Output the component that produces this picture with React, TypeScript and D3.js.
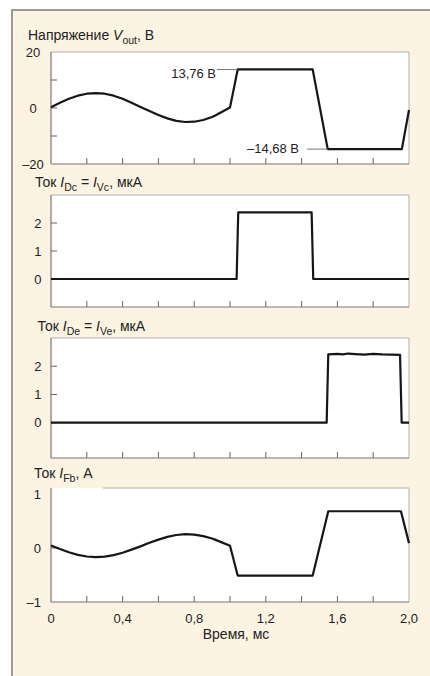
import React from "react";
import * as d3 from "d3";

// ---- data ----
const timeTicks = [0, 0.2, 0.4, 0.6, 0.8, 1.0, 1.2, 1.4, 1.6, 1.8, 2.0];
const timeTickLabels = ["0", "", "0,4", "", "0,8", "", "1,2", "", "1,6", "", "2,0"];

const voutT = [0, 0.05, 0.1, 0.15, 0.2, 0.25, 0.3, 0.35, 0.4, 0.45, 0.5, 0.55, 0.6, 0.65, 0.7, 0.75, 0.8, 0.85, 0.9, 0.92, 1.0, 1.043, 1.462, 1.546, 1.96, 2.0];
const voutV = [0.3, 1.9, 3.3, 4.4, 5.1, 5.3, 5.1, 4.4, 3.3, 1.9, 0.4, -1.1, -2.5, -3.7, -4.6, -5.0, -4.9, -4.3, -3.2, -2.6, 0.2, 13.76, 13.76, -14.68, -14.68, -0.7];

const idcT = [0, 1.037, 1.046, 1.456, 1.465, 2.0];
const idcV = [0, 0, 2.38, 2.38, 0, 0];

const ideT = [0, 1.54, 1.549, 1.6, 1.63, 1.66, 1.7, 1.75, 1.8, 1.85, 1.9, 1.95, 1.959, 2.0];
const ideV = [0, 0, 2.42, 2.44, 2.42, 2.45, 2.43, 2.41, 2.44, 2.42, 2.41, 2.4, 0, 0];

const ifbT = [0, 0.05, 0.1, 0.15, 0.2, 0.25, 0.3, 0.35, 0.4, 0.45, 0.5, 0.55, 0.6, 0.65, 0.7, 0.75, 0.8, 0.85, 0.9, 0.92, 1.0, 1.043, 1.462, 1.549, 1.955, 2.0];
const ifbV = [0.045, -0.02, -0.08, -0.128, -0.158, -0.17, -0.16, -0.132, -0.088, -0.03, 0.03, 0.095, 0.155, 0.205, 0.24, 0.255, 0.248, 0.22, 0.175, 0.15, 0.04, -0.51, -0.51, 0.68, 0.68, 0.09];

const panel1Ticks = [-10, 0, 10];
const panel1Labels = [20, 0, -20];
const panel2Ticks = [0, 1, 2];
const panel2Labels = [2, 1, 0];
const panel3Ticks = [0, 1, 2];
const panel3Labels = [2, 1, 0];
const panel4Labels = [1, 0, -1];

const annHigh = { t: 1.043, v: 13.76, label: "13,76 В" };
const annLow = { t: 1.546, v: -14.68, label: "–14,68 В" };

// ---- layout ----
const W = 430;
const H = 676;
const X0 = 51;
const X1 = 409;
const FONT = "'Liberation Sans', Arial, Helvetica, sans-serif";
const CREAM = "#fcf3e2";
const LINE = "#161616";
const BORDER = "#b0b0b0";

const x = d3.scaleLinear().domain([0, 2]).range([X0, X1]);

const fmt = (v: number) => (v < 0 ? "–" + Math.abs(v) : String(v));

type PanelProps = {
  id: string;
  top: number;
  bottom: number;
  domain: [number, number];
  ts: number[];
  vs: number[];
  yTicks: number[];
  yLabels: number[];
  labelX: number;
  labelAnchor: "middle" | "end";
  topBorderFrom?: number;
  children?: (y: d3.ScaleLinear<number, number>) => React.ReactNode;
};

function Panel({ id, top, bottom, domain, ts, vs, yTicks, yLabels, labelX, labelAnchor, topBorderFrom, children }: PanelProps) {
  const y = d3.scaleLinear().domain(domain).range([bottom, top]);
  const pts: [number, number][] = ts.map((t, i) => [t, vs[i]]);
  const line = d3
    .line<[number, number]>()
    .x((d) => x(d[0]))
    .y((d) => y(d[1]));
  const tb = topBorderFrom ?? X0;
  return (
    <g id={id}>
      <rect x={X0} y={top} width={X1 - X0} height={bottom - top} fill="#fff" />
      <line x1={tb} x2={X1} y1={top} y2={top} stroke={BORDER} strokeWidth={1} />
      <line x1={X1} x2={X1} y1={top} y2={bottom} stroke={BORDER} strokeWidth={1} />
      <line x1={X0} x2={X0} y1={top} y2={bottom} stroke="#777" strokeWidth={1.2} />
      <line x1={X0} x2={X1} y1={bottom} y2={bottom} stroke="#777" strokeWidth={1.2} />
      {timeTicks.slice(1, -1).map((t) => (
        <line key={id + "xt" + t} x1={x(t)} x2={x(t)} y1={bottom} y2={bottom - 6} stroke="#666" strokeWidth={1} />
      ))}
      {yTicks.map((v) => (
        <line key={id + "yt" + v} x1={X0} x2={X0 + 6} y1={y(v)} y2={y(v)} stroke="#666" strokeWidth={1} />
      ))}
      {yLabels.map((v) => (
        <text
          key={id + "yl" + v}
          x={labelX}
          y={y(v) + 4.7}
          textAnchor={labelAnchor}
          fontSize={13}
          fontFamily={FONT}
          fill="#222"
        >
          {fmt(v)}
        </text>
      ))}
      <path d={line(pts) ?? ""} fill="none" stroke={LINE} strokeWidth={2.2} strokeLinejoin="round" />
      {children ? children(y) : null}
    </g>
  );
}

const titleStyle = { fontSize: 14, fontFamily: FONT, fill: "#222" } as const;

export default function App() {
  return (
    <svg
      width={W}
      height={H}
      style={{ position: "absolute", left: 0, top: 0, display: "block" }}
      xmlns="http://www.w3.org/2000/svg"
    >
      <rect x={0} y={0} width={W} height={H} fill="#fff" />
      <rect x={12} y={10} width={W - 12} height={H - 10} fill={CREAM} />
      <line x1={11} x2={W} y1={10} y2={10} stroke="#9a9a9a" strokeWidth={2} />
      <line x1={12} x2={12} y1={10} y2={H} stroke="#9a9a9a" strokeWidth={2} />

      {/* Panel 1 */}
      <text x={28} y={39.5} {...titleStyle}>
        Напряжение <tspan fontStyle="italic">V</tspan>
        <tspan fontSize={10.5} dy={4}>out</tspan>
        <tspan dy={-4}>, В</tspan>
      </text>
      <Panel
        id="p1"
        top={52}
        bottom={164}
        domain={[-20, 20]}
        ts={voutT}
        vs={voutV}
        yTicks={panel1Ticks}
        yLabels={panel1Labels}
        labelX={33}
        labelAnchor="middle"
      >
        {(y) => (
          <g>
            <line x1={217} x2={x(annHigh.t)} y1={y(annHigh.v)} y2={y(annHigh.v)} stroke="#777" strokeWidth={1} />
            <text x={216} y={78} textAnchor="end" fontSize={13} fontFamily={FONT} fill="#222">
              {annHigh.label}
            </text>
            <line x1={307} x2={x(annLow.t)} y1={y(annLow.v)} y2={y(annLow.v)} stroke="#777" strokeWidth={1} />
            <text x={299} y={152.5} textAnchor="end" fontSize={13} fontFamily={FONT} fill="#222">
              {annLow.label}
            </text>
          </g>
        )}
      </Panel>

      {/* Panel 2 */}
      <text x={35} y={186.5} {...titleStyle}>
        Ток <tspan fontStyle="italic">I</tspan>
        <tspan fontSize={10.5} dy={4}>Dc</tspan>
        <tspan dy={-4}> = </tspan>
        <tspan fontStyle="italic">I</tspan>
        <tspan fontSize={10.5} dy={4}>Vc</tspan>
        <tspan dy={-4}>, мкА</tspan>
      </text>
      <Panel
        id="p2"
        top={195}
        bottom={307}
        domain={[-1, 3]}
        ts={idcT}
        vs={idcV}
        yTicks={panel2Ticks}
        yLabels={panel2Labels}
        labelX={41.5}
        labelAnchor="end"
      />

      {/* Panel 3 */}
      <text x={37.5} y={330.5} {...titleStyle}>
        Ток <tspan fontStyle="italic">I</tspan>
        <tspan fontSize={10.5} dy={4}>De</tspan>
        <tspan dy={-4}> = </tspan>
        <tspan fontStyle="italic">I</tspan>
        <tspan fontSize={10.5} dy={4}>Ve</tspan>
        <tspan dy={-4}>, мкА</tspan>
      </text>
      <Panel
        id="p3"
        top={338}
        bottom={458}
        domain={[-1.25, 3]}
        ts={ideT}
        vs={ideV}
        yTicks={panel3Ticks}
        yLabels={panel3Labels}
        labelX={41.5}
        labelAnchor="end"
      />

      {/* Panel 4 */}
      <text x={34} y={477.5} {...titleStyle}>
        Ток <tspan fontStyle="italic">I</tspan>
        <tspan fontSize={10.5} dy={4}>Fb</tspan>
        <tspan dy={-4}>, А</tspan>
      </text>
      <Panel
        id="p4"
        top={488}
        bottom={602}
        domain={[-1, 1.11]}
        ts={ifbT}
        vs={ifbV}
        yTicks={[0]}
        yLabels={panel4Labels}
        labelX={41}
        labelAnchor="end"
        topBorderFrom={103}
      />

      {timeTicks.map((t, i) =>
        timeTickLabels[i] ? (
          <text
            key={"xl" + t}
            x={x(t)}
            y={622.5}
            textAnchor="middle"
            fontSize={13}
            fontFamily={FONT}
            fill="#222"
          >
            {timeTickLabels[i]}
          </text>
        ) : null
      )}
      <text x={236} y={639} textAnchor="middle" fontSize={14} fontFamily={FONT} fill="#222">
        Время, мс
      </text>
    </svg>
  );
}
